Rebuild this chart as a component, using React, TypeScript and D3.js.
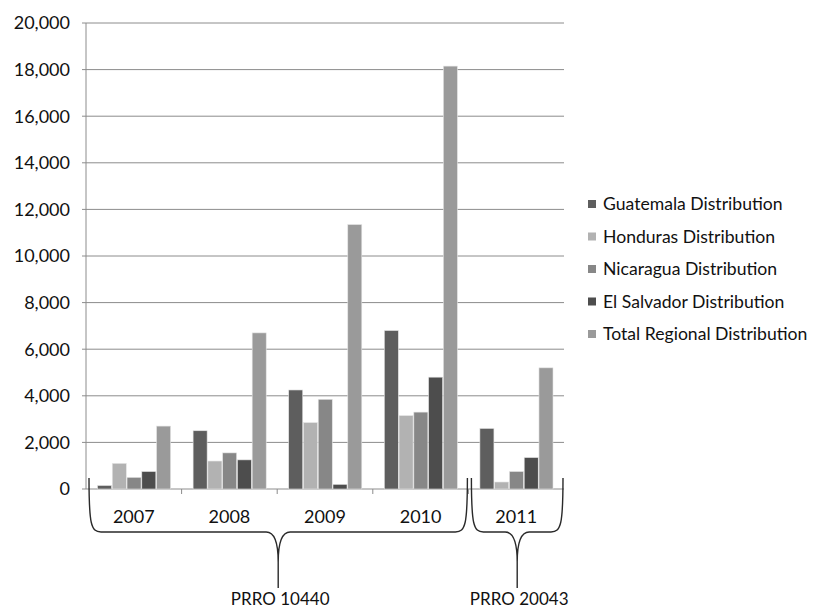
import React from "react";
import * as d3 from "d3";

// Food distribution by country and year (metric tons)
const years = ["2007", "2008", "2009", "2010", "2011"];
const seriesNames = [
  "Guatemala Distribution",
  "Honduras Distribution",
  "Nicaragua Distribution",
  "El Salvador Distribution",
  "Total Regional Distribution",
];
const guatemala = [150, 2500, 4250, 6800, 2600];
const honduras = [1100, 1200, 2850, 3150, 300];
const nicaragua = [500, 1550, 3850, 3300, 750];
const elSalvador = [750, 1250, 200, 4800, 1350];
const totalRegional = [2700, 6700, 11350, 18150, 5200];
const seriesColors = ["#5e5e5e", "#b2b2b2", "#878787", "#4d4d4d", "#9a9a9a"];
const yTicks = [0, 2000, 4000, 6000, 8000, 10000, 12000, 14000, 16000, 18000, 20000];
const programmes = [
  { label: "PRRO 10440", from: "2007", to: "2010" },
  { label: "PRRO 20043", from: "2011", to: "2011" },
];

const seriesValues = [guatemala, honduras, nicaragua, elSalvador, totalRegional];

const W = 815;
const H = 610;
const plot = { left: 86, right: 564, top: 23, bottom: 489 };
const font = "Lato, 'Open Sans', sans-serif";
const textColor = "#111";

export default function App() {
  const x0 = d3.scaleBand<string>().domain(years).range([plot.left, plot.right]);
  const x1 = d3
    .scaleBand<string>()
    .domain(seriesNames)
    .range([11.5, x0.bandwidth() - 11])
    .paddingInner(0.05);
  const y = d3.scaleLinear().domain([0, 20000]).range([plot.bottom, plot.top]);
  const fmt = d3.format(",");

  // Curly brace spanning a set of categories, tip pointing down
  const bracePath = (x1p: number, x2p: number) => {
    const top = 478;
    const bar = 532;
    const neck = 562;
    const tip = 588;
    const mid = (x1p + x2p) / 2;
    const p = d3.path();
    p.moveTo(x1p, top);
    p.bezierCurveTo(x1p, bar - 8, x1p + 2, bar, x1p + 12, bar);
    p.lineTo(mid - 12, bar);
    p.bezierCurveTo(mid - 3, bar, mid, bar + 12, mid, neck);
    p.lineTo(mid, tip);
    p.moveTo(mid, neck);
    p.bezierCurveTo(mid, bar + 12, mid + 3, bar, mid + 12, bar);
    p.lineTo(x2p - 12, bar);
    p.bezierCurveTo(x2p - 2, bar, x2p, bar - 8, x2p, top);
    return p.toString();
  };

  return (
    <svg
      width={W}
      height={H}
      style={{ position: "absolute", left: 0, top: 0, background: "#fff" }}
      fontFamily={font}
    >
      {/* gridlines */}
      {yTicks.map((t) => (
        <line
          key={"g" + t}
          x1={plot.left - 4}
          x2={plot.right}
          y1={y(t)}
          y2={y(t)}
          stroke="#8c8c8c"
          strokeWidth={1}
        />
      ))}
      {/* y axis */}
      <line x1={plot.left} x2={plot.left} y1={plot.top} y2={plot.bottom} stroke="#8c8c8c" />
      {yTicks.map((t) => (
        <text
          key={"l" + t}
          x={70}
          y={y(t)}
          dy="0.35em"
          textAnchor="end"
          fontSize={18}
          fill={textColor}
        >
          {fmt(t)}
        </text>
      ))}
      {/* category ticks */}
      {years.slice(1).map((yr) => (
        <line
          key={"t" + yr}
          x1={x0(yr)!}
          x2={x0(yr)!}
          y1={plot.bottom}
          y2={plot.bottom + 5}
          stroke="#8c8c8c"
        />
      ))}
      {/* bars */}
      {years.map((yr, i) => (
        <g key={yr} transform={`translate(${x0(yr)},0)`}>
          {seriesNames.map((s, j) => {
            const v = seriesValues[j][i];
            return (
              <rect
                key={s}
                x={x1(s)!}
                y={y(v)}
                width={x1.bandwidth()}
                height={y(0) - y(v)}
                fill={seriesColors[j]}
                stroke="#e4e4e4"
                strokeWidth={0.6}
              />
            );
          })}
        </g>
      ))}
      {/* category labels */}
      {years.map((yr) => (
        <text
          key={"c" + yr}
          x={x0(yr)! + x0.bandwidth() / 2}
          y={523}
          textAnchor="middle"
          fontSize={18}
          fill={textColor}
        >
          {yr}
        </text>
      ))}
      {/* programme braces */}
      {programmes.map((p) => {
        const a = x0(p.from)! + 3;
        const b = x0(p.to)! + x0.bandwidth() - 1;
        return (
          <g key={p.label}>
            <path d={bracePath(a, b)} fill="none" stroke="#2a2a2a" strokeWidth={1.4} />
            <text
              x={(a + b) / 2 + 2}
              y={605}
              textAnchor="middle"
              fontSize={17}
              fill={textColor}
            >
              {p.label}
            </text>
          </g>
        );
      })}
      {/* legend */}
      {seriesNames.map((s, j) => {
        const cy = 204 + j * 32.5;
        return (
          <g key={"lg" + s}>
            <rect x={588} y={cy - 4} width={8} height={8} fill={seriesColors[j]} />
            <text x={603} y={cy} dy="0.35em" fontSize={17.6} fill={textColor}>
              {s}
            </text>
          </g>
        );
      })}
    </svg>
  );
}
